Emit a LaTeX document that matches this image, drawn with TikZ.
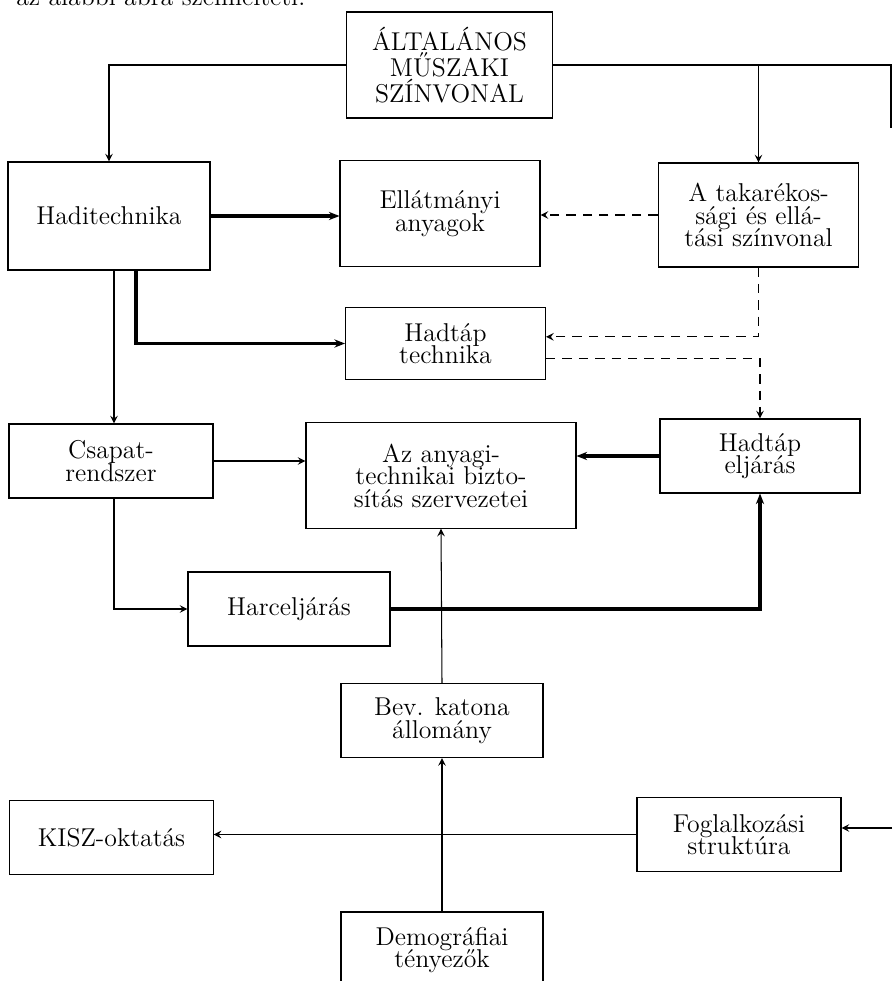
\documentclass[tikz,border=0pt]{standalone}
\usepackage{tikz}
\usetikzlibrary{arrows, arrows.meta, positioning}

\begin{document}
\begin{tikzpicture}[x=0.015cm, y=-0.015cm,
    box/.style={rectangle, draw, line width=0.45pt, align=center, inner sep=0pt, minimum width=3cm, minimum height=1.11cm, font=\fontsize{11}{9.6}\selectfont\lineskiplimit-5pt\relax},
    line/.style={line width=0.45pt},
    arrow/.style={line width=0.45pt,->,>=stealth},
    thickarrow/.style={line width=1.6pt,-{Stealth[length=4.5pt,width=3.5pt]}},
    dasharrow/.style={line width=0.45pt,->,>=stealth,dash pattern=on 4pt off 3pt}]

    \useasboundingbox (0,0) rectangle (892,981);

    \node[anchor=base west, font=\fontsize{11}{9.6}\selectfont] (intro) at (8,6) {az alábbi ábra szemlélteti:};

    \node[box, minimum width=3.08cm, minimum height=1.59cm, font=\fontsize{11}{11.2}\selectfont] (alt) at (449.5,65) {ÁLTALÁNOS\\MŰSZAKI\\SZÍNVONAL};
    \node[box, minimum width=3.03cm, minimum height=1.62cm] (hadi) at (109,216) {Haditechnika};
    \node[box, minimum height=1.6cm] (ellat) at (440,213.5) {Ellátmányi\\anyagok};
    \node[box, minimum width=3.01cm, minimum height=1.56cm] (takar) at (758.5,215) {A takarékos-\\sági és ellá-\\tási színvonal};
    \node[box, minimum height=1.07cm] (htech) at (445.5,343.5) {Hadtáp\\technika};
    \node[box, minimum width=3.06cm] (csapat) at (111,461) {Csapat-\\rendszer};
    \node[box, minimum width=4.05cm, minimum height=1.58cm] (anyagi) at (441,475.5) {Az anyagi-\\technikai bizto-\\sítás szervezetei};
    \node[box] (heljar) at (760,456) {Hadtáp\\eljárás};
    \node[box, minimum width=3.03cm] (harc) at (289,609) {Harceljárás};
    \node[box, minimum width=3.03cm] (bev) at (442,720.5) {Bev. katona\\állomány};
    \node[box, minimum width=3.05cm] (kisz) at (111.5,837.5) {KISZ-oktatás};
    \node[box, minimum width=3.06cm] (fogl) at (739,834.5) {Foglalkozási\\struktúra};
    \node[box, minimum width=3.03cm, minimum height=1.14cm] (demo) at (442,950) {Demográfiai\\tényezők};

    \coordinate (rtop) at (891,128);
    \coordinate (redge) at (892,828);

    \draw[arrow] (alt.west) -| (hadi.north);
    \draw[line] (alt.east) -| (rtop);
    \draw[arrow] (alt.east -| takar.north) -- (takar.north);
    \draw[thickarrow] (hadi.east) -- (hadi.east -| ellat.west);
    \draw[dasharrow] (takar.west) -- (takar.west -| ellat.east);
    \draw[arrow] ([xshift=0.075cm]hadi.south) -- ([xshift=0.075cm]hadi.south |- csapat.north);
    \draw[thickarrow] ([xshift=0.405cm]hadi.south) |- (htech.west);
    \draw[dasharrow] (takar.south) |- ([yshift=0.1cm]htech.east);
    \draw[dasharrow] ([yshift=-0.225cm]htech.east) -| (heljar.north);
    \draw[arrow] (csapat.east) -- (csapat.east -| anyagi.west);
    \draw[thickarrow] (heljar.west) -- (heljar.west -| anyagi.east);
    \draw[arrow] ([xshift=0.045cm]csapat.south) |- (harc.west);
    \draw[thickarrow] (harc.east) -| (heljar.south);
    \draw[arrow] (bev.north) -- (anyagi.south);
    \draw[arrow] (demo.north) -- (bev.south);
    \draw[arrow] (fogl.west) -- (fogl.west -| kisz.east);
    \draw[arrow] (redge) -- (redge -| fogl.east);
\end{tikzpicture}
\end{document}
